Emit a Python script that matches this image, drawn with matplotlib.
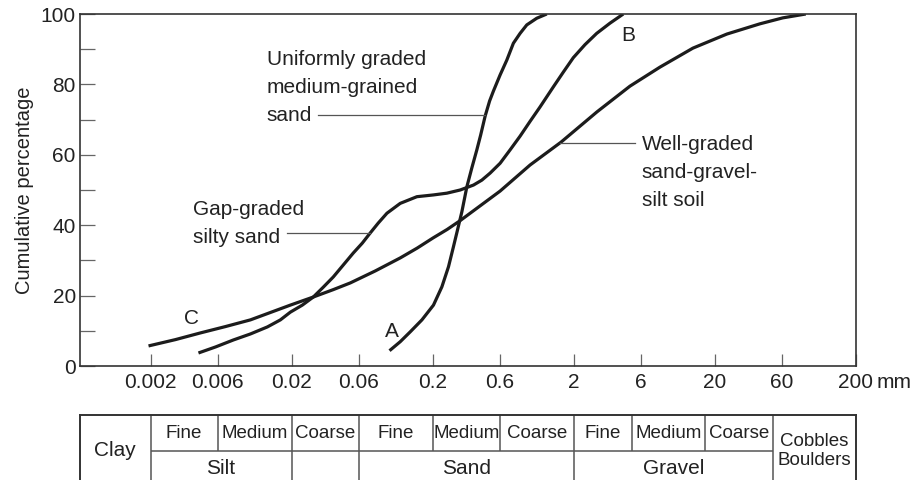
import numpy as np
import matplotlib
matplotlib.use('Agg')
import matplotlib.pyplot as plt
from matplotlib.ticker import FixedLocator, NullLocator

plt.rcParams['font.family'] = ['Liberation Sans', 'DejaVu Sans']

# grain size (mm) vs cumulative percentage
size_A = [0.0990, 0.1179, 0.1388, 0.1680, 0.2029, 0.2328, 0.2593, 0.2812, 0.3002, 0.3225,
          0.3499, 0.3797, 0.4118, 0.4383, 0.4717, 0.5074, 0.5398, 0.6024, 0.6718, 0.7480,
          0.8346, 0.9307, 1.0957, 1.290]
pct_A = [4.35, 6.9, 9.7, 13.1, 17.3, 22.5, 28.2, 33.9, 38.6, 43.8,
         50.9, 56.3, 61.4, 65.6, 71.0, 75.3, 78.1, 82.7, 86.9, 91.7,
         94.5, 96.9, 98.8, 100]

size_B = [0.004374, 0.005773, 0.00774, 0.010214, 0.013478, 0.016665, 0.019616, 0.023852,
          0.028534, 0.033589, 0.039537, 0.046545, 0.05479, 0.063445, 0.072277, 0.082325,
          0.094908, 0.1179, 0.1548, 0.2029, 0.25262, 0.31365, 0.38975, 0.44678, 0.51155,
          0.6024, 0.7089, 0.8346, 0.9822, 1.1561, 1.4363, 1.6907, 1.9903, 2.4082, 2.9148,
          3.6224, 4.4978]
pct_B = [3.7, 5.4, 7.4, 9.1, 11.1, 13.1, 15.3, 17.3,
         19.6, 22.4, 25.3, 28.7, 32.1, 34.9, 37.8, 40.6,
         43.4, 46.2, 48.1, 48.6, 49.1, 50.0, 51.4, 52.8, 54.8,
         57.6, 61.4, 65.3, 69.5, 73.6, 79.3, 83.5, 87.6, 91.3, 94.5,
         97.4, 100]

size_C = [0.001936, 0.003006, 0.004519, 0.006795, 0.010214, 0.014157, 0.019616, 0.028534,
          0.039537, 0.052177, 0.078397, 0.1179, 0.15555, 0.20187, 0.25384, 0.31365, 0.43463,
          0.6024, 0.9822, 1.6286, 2.9289, 5.0166, 8.1826, 14.017, 24.399, 41.8, 60.81, 88.5]
pct_C = [5.7, 7.5, 9.4, 11.2, 13.1, 15.2, 17.3, 19.6,
         21.7, 23.6, 27.0, 30.7, 33.5, 36.4, 38.8, 41.3, 45.5,
         49.7, 57.1, 63.6, 72.2, 79.5, 84.9, 90.3, 94.3, 97.2, 98.9, 100]

tick_vals = [0.002, 0.006, 0.02, 0.06, 0.2, 0.6, 2, 6, 20, 60, 200]
tick_text = ['0.002', '0.006', '0.02', '0.06', '0.2', '0.6', '2', '6', '20', '60', '200']

# classification strip below the chart (column edges in mm)
col_edges = [0.002, 0.006, 0.02, 0.06, 0.2, 0.6, 2, 5.2, 17, 52]
sub_names = ['Fine', 'Medium', 'Coarse'] * 3
group_names = ['Silt', 'Sand', 'Gravel']
group_edges = [(0.002, 0.02), (0.06, 2), (2, 52)]

W, H = 914, 480
fig = plt.figure(figsize=(W / 100, H / 100), dpi=100)
ax = fig.add_axes([80 / W, 1 - 366 / H, 775.7 / W, 352 / H])

xmin = 0.002 / np.sqrt(10)
ax.set_xscale('log')
ax.set_xlim(xmin, 200)
ax.set_ylim(0, 100)

ink = '#1c1c1c'
txt = '#222'
for s, p in [(size_A, pct_A), (size_B, pct_B), (size_C, pct_C)]:
    ax.plot(s, p, color=ink, lw=2.3, solid_capstyle='butt', solid_joinstyle='round')

ax.xaxis.set_major_locator(FixedLocator(tick_vals))
ax.xaxis.set_minor_locator(NullLocator())
ax.set_xticklabels(tick_text)
ax.set_yticks(range(0, 101, 20))
ax.set_yticks(range(10, 100, 20), minor=True)
ax.tick_params(axis='x', which='major', direction='in', length=8.6, width=0.9,
               color='#666', pad=5, labelsize=15, labelcolor=txt)
ax.tick_params(axis='y', which='both', direction='in', length=10.8, width=0.9,
               color='#666', pad=3, labelsize=15, labelcolor=txt)
for sp in ax.spines.values():
    sp.set_color('#333')
    sp.set_linewidth(1.2)

ax.annotate('mm', xy=(1, 0), xycoords='axes fraction', xytext=(15, -5),
            textcoords='offset points', ha='left', va='top', fontsize=15, color=txt)
ax.set_ylabel('Cumulative percentage', fontsize=14.5, labelpad=5, color=txt)


def on_curve(level, sizes, pcts):
    # grain size where a curve reaches a given percentage
    return 10 ** np.interp(level, pcts, np.log10(sizes))


lead = dict(color='#555', lw=0.9)
ax.text(0.0133, 79.2, 'Uniformly graded\nmedium-grained\nsand', fontsize=15,
        ha='left', va='center', linespacing=1.6, color=txt)
ax.plot([0.031, on_curve(71.3, size_A, pct_A)], [71.3, 71.3], **lead)

ax.text(0.00403, 40.5, 'Gap-graded\nsilty sand', fontsize=15,
        ha='left', va='center', linespacing=1.6, color=txt)
ax.plot([0.0187, on_curve(37.8, size_B, pct_B)], [37.8, 37.8], **lead)

ax.text(6.1, 55.0, 'Well-graded\nsand-gravel-\nsilt soil', fontsize=15,
        ha='left', va='center', linespacing=1.6, color=txt)
ax.plot([on_curve(63.3, size_C, pct_C), 5.44], [63.3, 63.3], **lead)

ax.text(0.1035, 9.7, 'A', fontsize=15, ha='center', va='center', color=txt)
ax.text(4.84, 93.9, 'B', fontsize=15, ha='center', va='center', color=txt)
ax.text(0.00388, 13.4, 'C', fontsize=15, ha='center', va='center', color=txt)

# table
tb = fig.add_axes([80 / W, 1 - 487 / H, 775.7 / W, 72 / H])
tb.set_xscale('log')
tb.set_xlim(xmin, 200)
tb.set_ylim(0, 2)
tb.xaxis.set_major_locator(NullLocator())
tb.xaxis.set_minor_locator(NullLocator())
tb.set_yticks([])
for sp in tb.spines.values():
    sp.set_color('#333')
    sp.set_linewidth(1.4)

grid = dict(color='#555', lw=1.1)
full = [0.002, 0.02, 0.06, 2, 52]
tb.vlines(full, 0, 2, **grid)
tb.vlines([e for e in col_edges if e not in full], 1, 2, **grid)
tb.hlines(1, col_edges[0], col_edges[-1], **grid)

for i, name in enumerate(sub_names):
    xc = np.sqrt(col_edges[i] * col_edges[i + 1])
    tb.text(xc, 1.5, name, ha='center', va='center', fontsize=13.5, color=txt)
for name, (a, b) in zip(group_names, group_edges):
    tb.text(np.sqrt(a * b), 0.5, name, ha='center', va='center', fontsize=15, color=txt)
tb.text(np.sqrt(xmin * 0.002), 1.0, 'Clay', ha='center', va='center', fontsize=15, color=txt)
tb.text(np.sqrt(52 * 200), 1.0, 'Cobbles\nBoulders', ha='center', va='center',
        fontsize=13.5, linespacing=1.1, color=txt)

fig.savefig('out.png', dpi=100)
